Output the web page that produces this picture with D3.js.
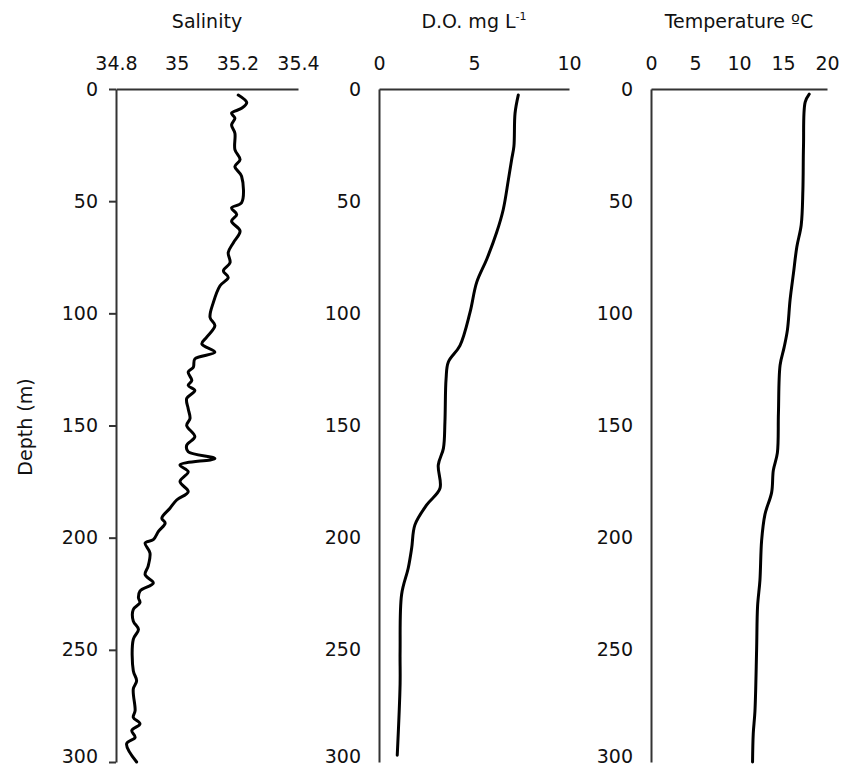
<!DOCTYPE html>
<html><head><meta charset="utf-8">
<script src="https://cdn.jsdelivr.net/npm/d3@7"></script>
<style>
html,body{margin:0;padding:0;background:#fff;}
text{font-family:"DejaVu Sans",Verdana,sans-serif;fill:#111;}
</style></head>
<body>
<svg id="chart" width="841" height="771"></svg>
<script>
// ---- Data (depth in m) ----
const salinityDepth = [2.7,6.1,8.6,10.8,13,16,19.7,27,31.5,34.5,38.9,50.7,53,55.9,58.9,63.3,68.5,72.9,77.4,81.1,84,87.7,95.1,101.8,105.5,110.6,113.6,117.3,120.3,124,126.2,129.9,132.1,134.4,138,142.5,146.9,149.9,155,158.8,161.7,164.7,167.6,170.6,175,179.5,183.2,186.9,191.3,193.5,197.2,200.9,202.4,206.8,212.7,216.5,220.2,223.8,226.8,229,232,237.2,240.9,245.3,259.3,263.8,267.5,277.1,280.1,283,286,289,291.9,300];
const salinity = [35.203,35.231,35.214,35.181,35.192,35.181,35.192,35.192,35.209,35.192,35.214,35.214,35.181,35.198,35.181,35.209,35.187,35.170,35.176,35.154,35.170,35.143,35.121,35.110,35.126,35.099,35.083,35.126,35.060,35.055,35.038,35.050,35.038,35.060,35.033,35.038,35.044,35.033,35.060,35.033,35.038,35.126,35.011,35.038,35.011,35.038,35.000,34.978,34.951,34.962,34.940,34.923,34.896,34.912,34.906,34.896,34.923,34.879,34.874,34.879,34.857,34.857,34.874,34.857,34.857,34.868,34.857,34.863,34.857,34.879,34.852,34.863,34.835,34.868];

const doDepth = [2.7,10.8,25.6,31.5,40.4,53.7,64,75.9,86.2,99.6,114.4,121.7,129.2,148.4,160.2,167.6,178,185.4,194.3,204.6,213.5,225.3,250.5,265.3,297];
const dissolvedO2 = [7.33,7.16,7.1,6.98,6.81,6.54,6.19,5.67,5.14,4.79,4.26,3.65,3.53,3.47,3.39,3.12,3.21,2.51,1.89,1.72,1.54,1.19,1.11,1.11,0.96];

const tempDepth = [2.3,5.9,25.4,45,60.6,70.4,82.1,93.8,107.5,115.3,123.1,144.6,162.2,170,179.8,189.6,201.3,218.9,230.6,250.2,277.5,287.3,300];
const temperature = [17.98,17.52,17.33,17.26,17.07,16.57,16.19,15.81,15.5,15.12,14.67,14.48,14.36,13.9,13.71,12.95,12.57,12.38,12.11,12.0,11.81,11.62,11.54];

const depthTicks = [0,50,100,150,200,250,300];
const salinityTicks = [34.8,35,35.2,35.4];
const doTicks = [0,5,10];
const tempTicks = [0,5,10,15,20];

// ---- Layout ----
const svg = d3.select("#chart");
const y = d3.scaleLinear().domain([0,300]).range([89,762]);

const panels = [
  {x:d3.scaleLinear().domain([34.8,35.4]).range([116,298]), ticks:salinityTicks, depth:salinityDepth, vals:salinity, ytick:7},
  {x:d3.scaleLinear().domain([0,10]).range([379,569]), ticks:doTicks, depth:doDepth, vals:dissolvedO2, ytick:0},
  {x:d3.scaleLinear().domain([0,20]).range([651,827]), ticks:tempTicks, depth:tempDepth, vals:temperature, ytick:0}
];

const FS = 19;
panels.forEach((p,i)=>{
  const [x0,x1] = p.x.range();
  // top axis
  const gx = svg.append("g").attr("transform",`translate(0,${y(0)})`)
    .call(d3.axisTop(p.x).tickValues(p.ticks).tickSize(0).tickSizeOuter(0).tickPadding(19).tickFormat(d3.format("")));
  gx.select(".domain").attr("stroke","#333").attr("stroke-width",2);
  gx.selectAll("text").attr("font-size",FS).attr("font-family","DejaVu Sans").attr("fill","#111");
  // left axis
  const gy = svg.append("g").attr("transform",`translate(${x0},0)`)
    .call(d3.axisLeft(y).tickValues(depthTicks).tickSize(p.ytick).tickSizeOuter(0).tickPadding(18 - p.ytick));
  gy.select(".domain").attr("stroke","#333").attr("stroke-width",2);
  gy.selectAll("line").attr("stroke","#333").attr("stroke-width",2);
  gy.selectAll("text").attr("font-size",FS).attr("font-family","DejaVu Sans").attr("fill","#111")
    .attr("dy", d => d === 300 ? "0.05em" : "0.32em");
  // line
  const pts = p.depth.map((d,k)=>[p.vals[k], d]);
  svg.append("path").datum(pts)
    .attr("fill","none").attr("stroke","#000").attr("stroke-width",3)
    .attr("stroke-linejoin","round").attr("stroke-linecap","round")
    .attr("d", d3.line().x(d=>p.x(d[0])).y(d=>y(d[1])).curve(d3.curveCatmullRom.alpha(0.5)));
  // title
  const t = svg.append("text").attr("x",(x0+x1)/2).attr("y",28)
    .attr("text-anchor","middle").attr("font-size",FS);
  if (i===0) t.text("Salinity");
  else if (i===1) { t.append("tspan").text("D.O. mg L"); t.append("tspan").attr("font-size",11).attr("dy",-8).text("-1"); }
  else t.text("Temperature ºC");
});

// y label
svg.append("text").attr("transform","translate(32,427) rotate(-90)")
  .attr("text-anchor","middle").attr("font-size",FS).text("Depth (m)");
</script>
</body></html>
